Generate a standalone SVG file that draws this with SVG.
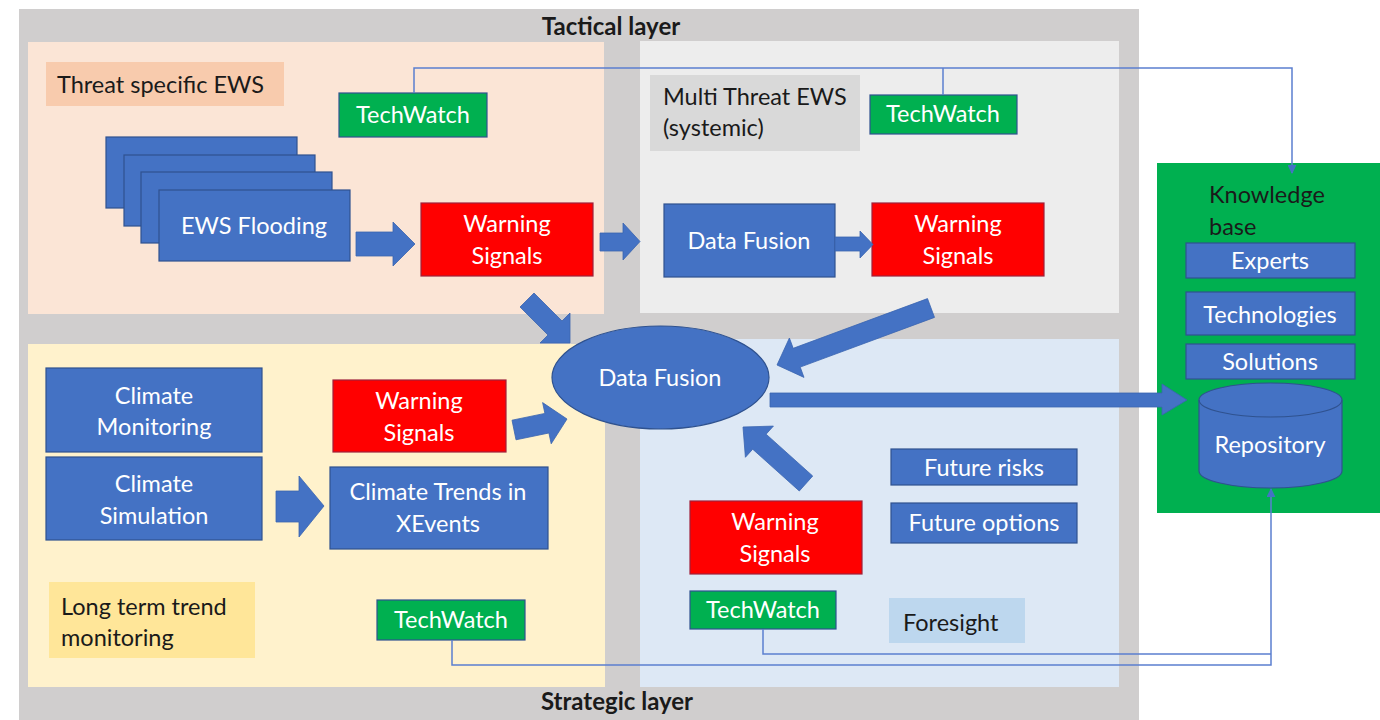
<svg xmlns="http://www.w3.org/2000/svg" width="1380" height="720" viewBox="0 0 1380 720">
<defs>
<style>
text{font-family:Lato,"Open Sans","Liberation Sans",sans-serif;font-size:23.5px}
.w{fill:#ffffff;text-anchor:middle}
.k{fill:#1a1a1a}
.b{font-weight:bold;fill:#1a1a1a;text-anchor:middle;font-size:24px}
.blue{fill:#4472c4;stroke:#2f528f;stroke-width:1.2}
.red{fill:#ff0000;stroke:#a0203a;stroke-width:1.2}
.green{fill:#00b050;stroke:#2f528f;stroke-width:1.2}
.arr{fill:#4472c4;stroke:#3a64b0;stroke-width:0.8}
.ln{fill:none;stroke:#5b7fcf;stroke-width:1.5}
</style>
<marker id="ah" viewBox="0 0 10 10" refX="9" refY="5" markerWidth="9" markerHeight="9" orient="auto" markerUnits="userSpaceOnUse">
<path d="M0,0 L10,5 L0,10 z" fill="#4472c4"/>
</marker>
</defs>
<rect width="1380" height="720" fill="#ffffff"/>
<!-- background panels -->
<rect x="19" y="9" width="1120" height="711" fill="#d0cece"/>
<rect x="28" y="42" width="576" height="272" fill="#fbe5d6"/>
<rect x="640" y="41" width="479" height="272" fill="#ededed"/>
<rect x="28" y="344" width="577" height="343" fill="#fff2cc"/>
<rect x="640" y="339" width="479" height="348" fill="#dde8f5"/>
<text class="b" x="611" y="35">Tactical layer</text>
<text class="b" x="617" y="710">Strategic layer</text>

<g id="label-threat"><rect x="46" y="62" width="238" height="44" fill="#f8cbad"/><text class="k" x="57" y="93">Threat specific EWS</text></g>
<g id="label-multi"><rect x="650" y="75" width="210" height="76" fill="#d9d9d9"/><text class="k" x="663" y="105">Multi Threat EWS</text><text class="k" x="663" y="136">(systemic)</text></g>
<g id="label-long"><rect x="49" y="582" width="206" height="76" fill="#ffe699"/><text class="k" x="61" y="615">Long term trend</text><text class="k" x="61" y="646">monitoring</text></g>
<g id="label-foresight"><rect x="889" y="598" width="136" height="45" fill="#bdd7ee"/><text class="k" x="903" y="631">Foresight</text></g>

<g id="techwatch-1"><rect class="green" x="339" y="93" width="148" height="44"/><text class="w" x="413" y="123">TechWatch</text></g>
<g id="ews-flooding">
<rect class="blue" x="106" y="137" width="191" height="71"/>
<rect class="blue" x="124" y="155" width="191" height="71"/>
<rect class="blue" x="141" y="172" width="191" height="71"/>
<rect class="blue" x="159" y="190" width="191" height="71"/>
<text class="w" x="254" y="234">EWS Flooding</text>
</g>
<g id="ws-1"><rect class="red" x="421" y="203" width="172" height="73"/><text class="w" x="507" y="232">Warning</text><text class="w" x="507" y="264">Signals</text></g>
<g id="techwatch-2"><rect class="green" x="870" y="95" width="147" height="39"/><text class="w" x="943" y="122">TechWatch</text></g>
<g id="data-fusion-1"><rect class="blue" x="664" y="204" width="171" height="73"/><text class="w" x="749" y="249">Data Fusion</text></g>
<g id="ws-2"><rect class="red" x="872" y="203" width="172" height="73"/><text class="w" x="958" y="232">Warning</text><text class="w" x="958" y="264">Signals</text></g>

<g id="knowledge-base">
<rect x="1157" y="163" width="223" height="350" fill="#00b050"/>
<text class="k" x="1209" y="203">Knowledge</text><text class="k" x="1209" y="235">base</text>
</g>
<g id="experts"><rect class="blue" x="1186" y="243" width="169" height="35"/><text class="w" x="1270" y="269">Experts</text></g>
<g id="technologies"><rect class="blue" x="1186" y="292" width="169" height="43"/><text class="w" x="1270" y="323">Technologies</text></g>
<g id="solutions"><rect class="blue" x="1186" y="344" width="169" height="35"/><text class="w" x="1270" y="370">Solutions</text></g>
<g id="repository">
<path class="blue" d="M1199,400 V471 A71.5,17 0 0 0 1342,471 V400 A71.5,17 0 0 0 1199,400 Z"/>
<path d="M1199,400 A71.5,17 0 0 0 1342,400" fill="none" stroke="#2f528f" stroke-width="1.2"/>
<text class="w" x="1270" y="453">Repository</text>
</g>

<g id="data-fusion-2"><ellipse class="blue" cx="660.5" cy="377.5" rx="108.5" ry="51.5"/><text class="w" x="660" y="386">Data Fusion</text></g>

<g id="climate-monitoring"><rect class="blue" x="46" y="368" width="216" height="84"/><text class="w" x="154" y="404">Climate</text><text class="w" x="154" y="435">Monitoring</text></g>
<g id="climate-simulation"><rect class="blue" x="46" y="457" width="216" height="83"/><text class="w" x="154" y="492">Climate</text><text class="w" x="154" y="524">Simulation</text></g>
<g id="ws-3"><rect class="red" x="333" y="380" width="173" height="72"/><text class="w" x="419" y="409">Warning</text><text class="w" x="419" y="441">Signals</text></g>
<g id="climate-trends"><rect class="blue" x="330" y="467" width="218" height="82"/><text class="w" x="438" y="500">Climate Trends in</text><text class="w" x="438" y="532">XEvents</text></g>
<g id="techwatch-3"><rect class="green" x="377" y="600" width="148" height="40"/><text class="w" x="451" y="628">TechWatch</text></g>

<g id="ws-4"><rect class="red" x="690" y="501" width="172" height="73"/><text class="w" x="775" y="530">Warning</text><text class="w" x="775" y="562">Signals</text></g>
<g id="future-risks"><rect class="blue" x="891" y="449" width="186" height="36"/><text class="w" x="984" y="476">Future risks</text></g>
<g id="future-options"><rect class="blue" x="891" y="503" width="186" height="40"/><text class="w" x="984" y="531">Future options</text></g>
<g id="techwatch-4"><rect class="green" x="690" y="591" width="146" height="38"/><text class="w" x="763" y="618">TechWatch</text></g>

<g id="connectors">
<path class="ln" d="M414,93 V68 H1292 V173" marker-end="url(#ah)"/>
<path class="ln" d="M943,95 V68"/>
<path class="ln" d="M452,640 V665 H1271 V489" marker-end="url(#ah)"/>
<path class="ln" d="M763,629 V654 H1271"/>
<polygon class="arr" points="356,232 393,232 393,222 415,244 393,266 393,256 356,256"/>
<polygon class="arr" points="600,233 623,233 623,223 640,241.5 623,260 623,251 600,251"/>
<polygon class="arr" points="835,237 860,237 860,231 873,244.5 860,258 860,251 835,251"/>
<polygon class="arr" points="534,293 562,321 570,313 570,343 540,343 548,335 520,307"/>
<polygon class="arr" points="927.5,298.6 793.2,348.3 789.4,338 777,365 804,377.4 800.2,367.1 934.5,317.4"/>
<polygon class="arr" points="812.7,476 766.1,434.2 773.4,426.1 743,427 745.4,457.3 752.7,449.2 799.3,491"/>
<polygon class="arr" points="512,420.2 544.9,413.4 542.6,402.6 567,419 551.2,443.8 548.9,433 516,439.8"/>
<polygon class="arr" points="276,491 299,491 299,476 324,506 299,537 299,522 276,522"/>
<polygon class="arr" points="770,393 1162,393 1162,384 1187,400 1162,415 1162,407 770,407"/>
</g>
</svg>
